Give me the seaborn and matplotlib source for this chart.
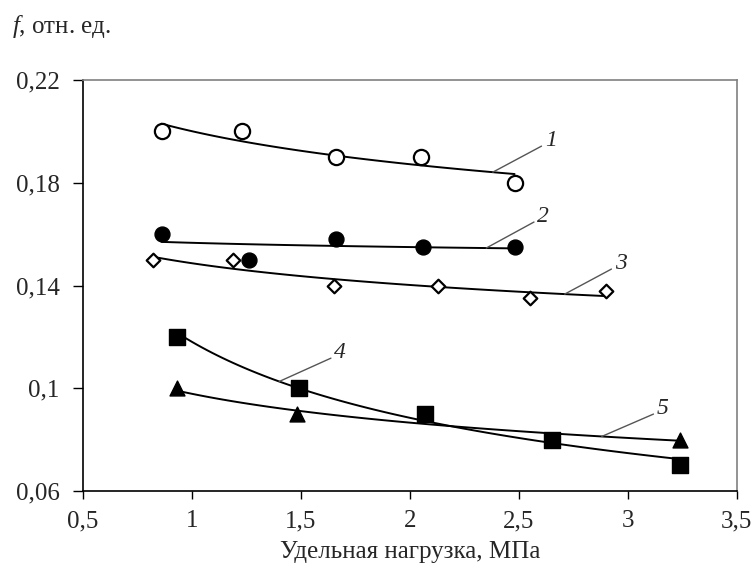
import numpy as np
import pandas as pd
import seaborn as sns
import matplotlib.pyplot as plt

sns.set_style("white")
plt.rcParams['font.family'] = ['Liberation Serif', 'DejaVu Serif']
plt.rcParams['mathtext.fontset'] = 'custom'
plt.rcParams['mathtext.it'] = 'Liberation Serif:italic'
plt.rcParams['mathtext.rm'] = 'Liberation Serif'

# data
x1 = [0.86, 1.23, 1.66, 2.05, 2.48]
y1 = [0.200, 0.200, 0.190, 0.190, 0.180]
x2 = [0.86, 1.26, 1.66, 2.06, 2.48]
y2 = [0.160, 0.150, 0.158, 0.155, 0.155]
x3 = [0.82, 1.19, 1.65, 2.13, 2.55, 2.90]
y3 = [0.150, 0.150, 0.140, 0.140, 0.135, 0.138]
x4 = [0.93, 1.49, 2.07, 2.65, 3.24]
y4 = [0.120, 0.100, 0.090, 0.080, 0.070]
x5 = [0.93, 1.48, 3.24]
y5 = [0.100, 0.090, 0.080]

names = ['1', '2', '3', '4', '5']
label_at = [2.38, 2.35, 2.71, 1.40, 2.88]   # x on the curve where the leader starts
x_ticks = [0.5, 1, 1.5, 2, 2.5, 3, 3.5]
y_ticks = [0.06, 0.10, 0.14, 0.18, 0.22]

series = [(x1, y1), (x2, y2), (x3, y3), (x4, y4), (x5, y5)]
styles = [
    dict(marker='o', s=120, facecolor='white', edgecolor='black', linewidth=1.6),
    dict(marker='o', s=115, facecolor='black', edgecolor='black', linewidth=1),
    dict(marker='D', s=48, facecolor='white', edgecolor='black', linewidth=1.6),
    dict(marker='s', s=125, facecolor='black', edgecolor='black', linewidth=1),
    dict(marker='^', s=115, facecolor='black', edgecolor='black', linewidth=1),
]
offsets = [(52, 32), (51, 32), (50, 31), (55, 29), (55, 28)]

fig = plt.figure(figsize=(7.55, 5.70), dpi=100)
ax = fig.add_axes([0.110, 0.1386, 0.866, 0.721])

for (xs, ys), st, name, xa, off in zip(series, styles, names, label_at, offsets):
    # power trend line, like a spreadsheet trendline
    b, a = np.polyfit(np.log(xs), np.log(ys), 1)
    xf = np.linspace(min(xs), max(xs), 100)
    fit = pd.DataFrame({'x': xf, 'y': np.exp(a) * xf ** b})
    sns.lineplot(data=fit, x='x', y='y', color='black', linewidth=1.4, ax=ax, zorder=2)
    sns.scatterplot(x=xs, y=ys, ax=ax, zorder=3, **st)
    ya = np.exp(a) * xa ** b
    ax.annotate(name, xy=(xa, ya), xytext=off, textcoords='offset pixels',
                fontsize=17, style='italic', ha='left', va='center',
                arrowprops=dict(arrowstyle='-', color='#555555', lw=1,
                                shrinkA=0, shrinkB=0, relpos=(0, 0.3)))

ax.set_xlim(0.5, 3.5)
ax.set_ylim(0.06, 0.22)
ax.set_xticks(x_ticks)
ax.set_yticks(y_ticks)
ax.set_xticklabels([f'{v:g}'.replace('.', ',') for v in x_ticks])
ax.set_yticklabels([f'{v:g}'.replace('.', ',') for v in y_ticks])
ax.tick_params(axis='x', direction='out', length=6, width=1, color='black',
               labelsize=18, pad=8, bottom=True)
ax.tick_params(axis='y', direction='out', length=7, width=1, color='black',
               labelsize=18, pad=10, left=True)

for side in ['left', 'bottom']:
    ax.spines[side].set_color('black')
    ax.spines[side].set_linewidth(1.2)
for side in ['top', 'right']:
    ax.spines[side].set_color('#808080')
    ax.spines[side].set_linewidth(1.2)

ax.set_xlabel('Удельная нагрузка, МПа', fontsize=18, labelpad=6)
ax.set_ylabel('')
fig.text(12 / 755, 1 - 33 / 570, '$f$, отн. ед.', fontsize=18, va='baseline', ha='left')

fig.savefig('out.png', dpi=100, facecolor='white')
